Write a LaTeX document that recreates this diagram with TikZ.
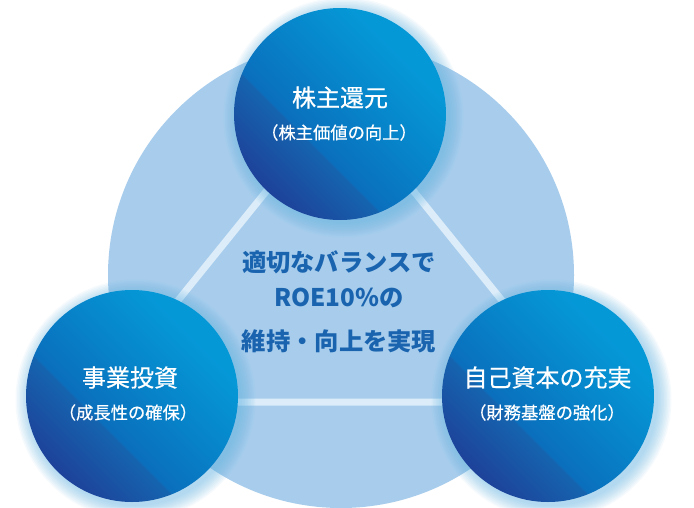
\documentclass[tikz,border=0pt]{standalone}
\usepackage{fontspec}
\newfontfamily\jp{Noto Sans CJK JP}
\newfontfamily\jpm[FakeBold=0.5]{Noto Sans CJK JP}
\usetikzlibrary{calc}
\definecolor{bgc}{HTML}{A8CDEC}
\definecolor{bdark}{HTML}{1F3B95}
\definecolor{bmidA}{HTML}{1564AF}
\definecolor{bmidB}{HTML}{0A6FBD}
\definecolor{bmidC}{HTML}{0784CA}
\definecolor{blight}{HTML}{0598D7}
\definecolor{linec}{HTML}{DCEDF9}
\definecolor{glowc}{HTML}{5DB3E4}
\definecolor{midtext}{HTML}{1A64AF}
\pgfdeclareverticalshading{bubbleshade}{100bp}{color(0bp)=(bdark); color(22bp)=(bdark); color(40bp)=(bmidA); color(40.5bp)=(bmidB); color(55bp)=(bmidC); color(70bp)=(blight); color(100bp)=(blight)}
\begin{document}
\begin{tikzpicture}[x=1pt,y=-1pt,
  bubble/.style={circle, minimum size=212pt, inner sep=0pt, shade, shading=bubbleshade, shading angle=-45},
  captionA/.style={text=white, font=\jpm\fontsize{24}{24}\selectfont, inner sep=0pt},
  captionB/.style={text=white, font=\jpm\fontsize{17.3}{17.3}\selectfont, inner sep=0pt},
  midtxt/.style={text=midtext, font=\jp\bfseries\fontsize{24.3}{24.3}\selectfont, inner sep=0pt},
  link/.style={draw=linec, line width=7pt},
  glow/.style={fill=glowc, opacity=0.06},
]
\useasboundingbox (0,0) rectangle (694,507);
\fill[white] (0,0) rectangle (694,507);
\node[circle, fill=bgc, minimum size=466pt, inner sep=0pt] (base) at (341,275) {};
\coordinate (apex) at (340,100);
\coordinate (bl) at (96,402);
\coordinate (br) at (584,402);
\draw[link] (apex) -- (bl) -- (br) -- cycle;
\coordinate (ctop) at (340,114);
\coordinate (cleft) at (132,396);
\coordinate (cright) at (548,396);
% glows
\foreach \cc in {ctop,cleft,cright}{
  \foreach \k in {1,...,10}{
    \fill[glow] ($(\cc)+(3.5,3.5)$) circle ({(105+1.5*\k)*1pt});
  }
}
\node[bubble] (top) at (ctop) {};
\node[bubble] (left) at (cleft) {};
\node[bubble] (right) at (cright) {};
% captions
\node[captionA] (t1) at (340,97.5) {株主還元};
\node[captionB] (t2) at (339,132.5) {（株主価値の向上）};
\node[captionA] (l1) at (130,377.5) {事業投資};
\node[captionB] (l2) at (128,412.5) {（成長性の確保）};
\node[captionA] (r1) at (547.5,377.5) {自己資本の充実};
\node[captionB] (r2) at (547,412.5) {（財務基盤の強化）};
% center text
\node[midtxt] (m1) at (339,262) {適切なバランスで};
\node[midtxt] (m2) at (339,298) {ROE10\%の};
\node[midtxt] (m3) at (339,341.5) {維持・向上を実現};
\end{tikzpicture}
\end{document}
